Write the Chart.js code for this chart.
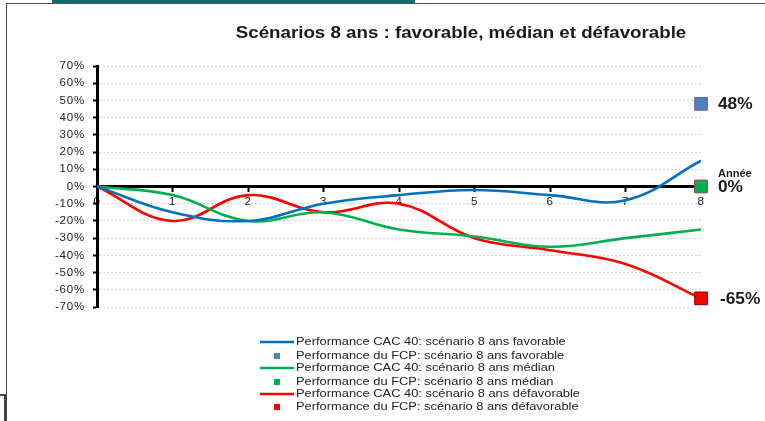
<!DOCTYPE html>
<html lang="fr">
<head>
    <meta charset="UTF-8">
    <title>Scénarios 8 ans</title>
    <script src="https://cdn.jsdelivr.net/npm/chart.js"></script>
    <style>
        body { margin: 0; background: #fff; }
        .frame { position: relative; width: 765px; height: 421px; overflow: hidden; }
        .topbar { position: absolute; left: 52px; top: 0; width: 363px; height: 3px; background: #0e6b6b; }
        .topline { position: absolute; left: 6px; top: 3px; right: 0; height: 1px; background: #555; }
        .leftline { position: absolute; left: 6px; top: 3px; width: 1px; height: 392px; background: #444; }
        .corner { position: absolute; left: 0; top: 394px; width: 6px; height: 2px; background: #444; }
        .cornerv { position: absolute; left: 4px; top: 395px; width: 3px; height: 26px; background: #444; }
        canvas { position: absolute; left: 0; top: 0; }
    </style>
</head>
<body>
    <div class="frame">
        <canvas id="scenarioChart" width="765" height="421"></canvas>
        <div class="topbar"></div>
        <div class="topline"></div>
        <div class="leftline"></div>
        <div class="corner"></div>
        <div class="cornerv"></div>
    </div>

    <script>
        // Data
        const years = [0, 1, 2, 3, 4, 5, 6, 7, 8];
        const cacFavorable = [0, -15, -20, -10, -5, -2, -5, -8, 15];
        const cacMedian = [0, -5, -20, -15, -25, -29, -35, -30, -25];
        const cacDefavorable = [0, -20, -5, -15, -10, -30, -37, -45, -65];
        const fcpYear = 8;
        const fcpFinal = [48, 0, -65];
        const fcpLabels = ['48%', '0%', '-65%'];

        const lineColors = ['#0070c0', '#00b050', '#ff0000'];
        const squareColors = ['#4f81bd', '#00b050', '#ff0000'];
        const squareBorders = ['#7060a0', '#a04040', '#800000'];
        const legendLabels = [
            'Performance CAC 40: scénario 8 ans favorable',
            'Performance du FCP: scénario 8 ans favorable',
            'Performance CAC 40: scénario 8 ans médian',
            'Performance du FCP: scénario 8 ans médian',
            'Performance CAC 40: scénario 8 ans défavorable',
            'Performance du FCP: scénario 8 ans défavorable'
        ];
        const FONT = '"Liberation Sans", Arial, sans-serif';

        function toPoints(values) {
            return values.map((v, i) => ({ x: years[i], y: v }));
        }

        const lineSeries = [cacFavorable, cacMedian, cacDefavorable];
        const datasets = [];
        lineSeries.forEach((values, i) => {
            datasets.push({
                label: legendLabels[i * 2],
                data: toPoints(values),
                borderColor: lineColors[i],
                borderWidth: 2.6,
                pointRadius: 0,
                tension: 0.4,
                fill: false,
                order: 2
            });
            datasets.push({
                label: legendLabels[i * 2 + 1],
                data: [{ x: fcpYear, y: fcpFinal[i] }],
                showLine: false,
                clip: false,
                pointStyle: 'rect',
                pointRadius: 9,
                pointBackgroundColor: squareColors[i],
                pointBorderColor: squareBorders[i],
                pointBorderWidth: 1,
                order: 1
            });
        });

        // text in the original is slightly stretched horizontally
        function wideText(ctx, text, x, y, sx) {
            ctx.save();
            ctx.translate(x, y);
            ctx.scale(sx, 1);
            ctx.fillText(text, 0, 0);
            ctx.restore();
        }

        // Title, end labels and legend drawn on the canvas
        const decorations = {
            id: 'decorations',
            beforeDraw(chart) {
                chart.ctx.letterSpacing = '0.8px';
            },
            afterDraw(chart) {
                const ctx = chart.ctx;
                const xs = chart.scales.x;
                const ys = chart.scales.y;
                ctx.save();
                ctx.letterSpacing = '0px';

                ctx.fillStyle = '#1a1a1a';
                ctx.font = 'bold 16px ' + FONT;
                ctx.textAlign = 'center';
                ctx.textBaseline = 'middle';
                wideText(ctx, 'Scénarios 8 ans : favorable, médian et défavorable', 461, 34, 1.17);

                // values at the end of the period
                ctx.textAlign = 'left';
                const px = xs.getPixelForValue(fcpYear);
                fcpFinal.forEach((v, i) => {
                    ctx.font = 'bold 16px ' + FONT;
                    wideText(ctx, fcpLabels[i], px + 17 + (v < 0 ? 2 : 0), ys.getPixelForValue(v) + 1, 1.08);
                });
                ctx.font = 'bold 10px ' + FONT;
                wideText(ctx, 'Année', px + 17, ys.getPixelForValue(0) - 12, 1.1);

                // legend
                ctx.font = '11px ' + FONT;
                const rowY = [342, 356, 368, 382, 394, 407];
                chart.data.datasets.forEach((ds, i) => {
                    const y = rowY[i];
                    if (ds.showLine === false) {
                        ctx.fillStyle = ds.pointBackgroundColor;
                        ctx.fillRect(274, y - 3, 6, 6);
                    } else {
                        ctx.strokeStyle = ds.borderColor;
                        ctx.lineWidth = 2.5;
                        ctx.beginPath();
                        ctx.moveTo(260, y);
                        ctx.lineTo(294, y);
                        ctx.stroke();
                    }
                    ctx.fillStyle = '#222';
                    wideText(ctx, ds.label, 296, y, 1.17);
                });
                ctx.restore();
            }
        };

        const ctx = document.getElementById('scenarioChart').getContext('2d');
        const scenarioChart = new Chart(ctx, {
            type: 'line',
            data: { datasets: datasets },
            options: {
                responsive: false,
                animation: false,
                layout: { padding: { top: 66, left: 20, right: 64, bottom: 114 } },
                plugins: {
                    legend: { display: false },
                    tooltip: { enabled: false }
                },
                scales: {
                    x: {
                        type: 'linear',
                        min: 0,
                        max: 8,
                        position: { y: 0 },
                        border: { color: '#000', width: 3 },
                        grid: { drawOnChartArea: false, tickColor: '#000', tickLength: 4, tickWidth: 2 },
                        ticks: {
                            stepSize: 1,
                            padding: 4,
                            color: '#222',
                            font: { size: 11.5, family: FONT }
                        }
                    },
                    y: {
                        min: -70,
                        max: 70,
                        afterFit(scale) { scale.width = 77; },
                        border: { color: '#000', width: 3, dash: [2, 2] },
                        grid: { color: '#d0d0d0', tickColor: '#000', tickLength: 4, tickWidth: 2 },
                        ticks: {
                            stepSize: 10,
                            padding: 8,
                            color: '#222',
                            font: { size: 11.5, family: FONT },
                            callback: v => v + '%'
                        }
                    }
                }
            },
            plugins: [decorations]
        });
    </script>
</body>
</html>
